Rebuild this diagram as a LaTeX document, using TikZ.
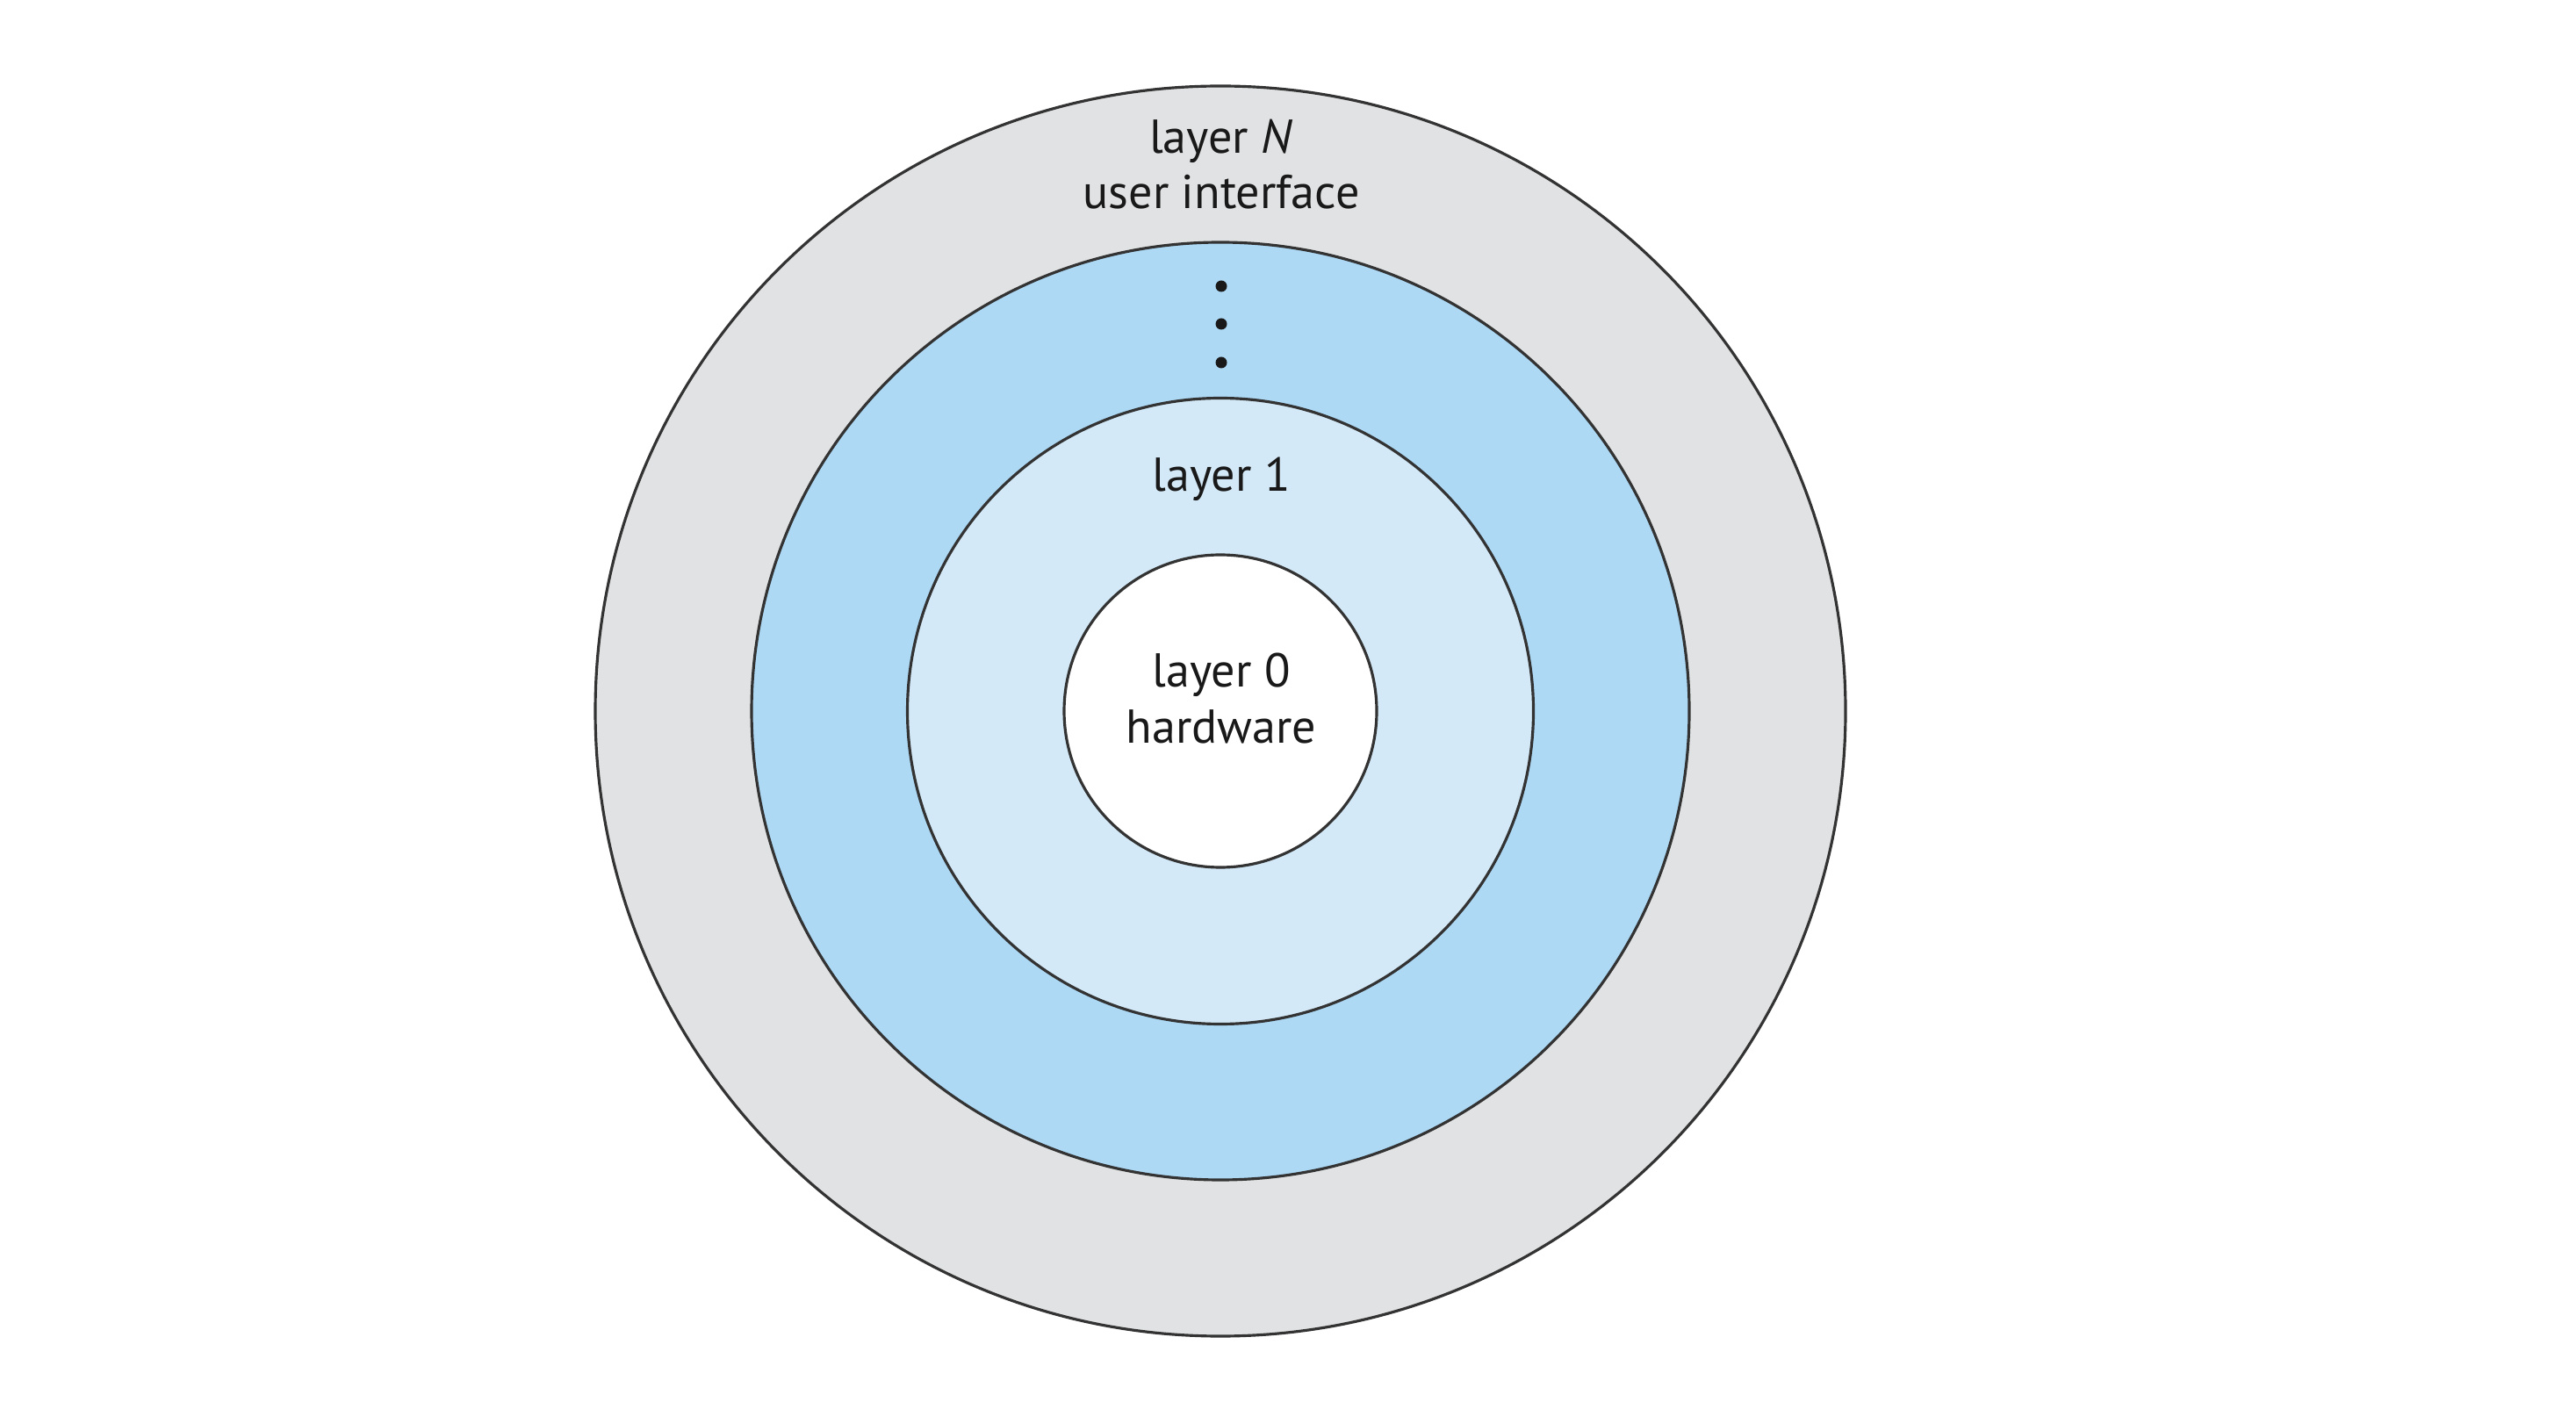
\documentclass[tikz,border=0pt]{standalone}
\usepackage{fontspec}
\setmainfont{PT Sans}
\definecolor{outergray}{HTML}{E1E2E3}
\definecolor{midblue}{HTML}{ADD9F5}
\definecolor{lightblue}{HTML}{D3E9F7}
\definecolor{linecol}{HTML}{333333}
\begin{document}
\begin{tikzpicture}[
  ring/.style={circle, draw=linecol, line width=0.9pt, inner sep=0pt},
  lbl/.style={anchor=base, font=\fontsize{15.4}{18}\selectfont, text=black!90, inner sep=0pt},
  dotmark/.style={circle, fill=black!90, inner sep=0pt, minimum size=0.13cm}
]
\useasboundingbox (0,0) rectangle (29.34,15.96);
\fill[white] (0,0) rectangle (29.34,15.96);
\node[ring, fill=outergray, minimum size=14.24cm] (ringN) at (13.90,7.86) {};
\node[ring, fill=midblue, minimum size=10.68cm] (ringmid) at (13.90,7.86) {};
\node[ring, fill=lightblue, minimum size=7.13cm] (ring1) at (13.90,7.86) {};
\node[ring, fill=white, minimum size=3.56cm] (ring0) at (13.90,7.86) {};
\node[lbl] (tN) at (13.91,14.21) {layer \textit{N}};
\node[lbl] (tUI) at (13.91,13.58) {user interface};
\node[dotmark] (d1) at (13.91,12.70) {};
\node[dotmark] (d2) at (13.91,12.27) {};
\node[dotmark] (d3) at (13.91,11.83) {};
\node[lbl] (t1) at (13.91,10.36) {layer 1};
\node[lbl] (t0) at (13.91,8.13) {layer 0};
\node[lbl] (thw) at (13.91,7.49) {hardware};
\end{tikzpicture}
\end{document}
